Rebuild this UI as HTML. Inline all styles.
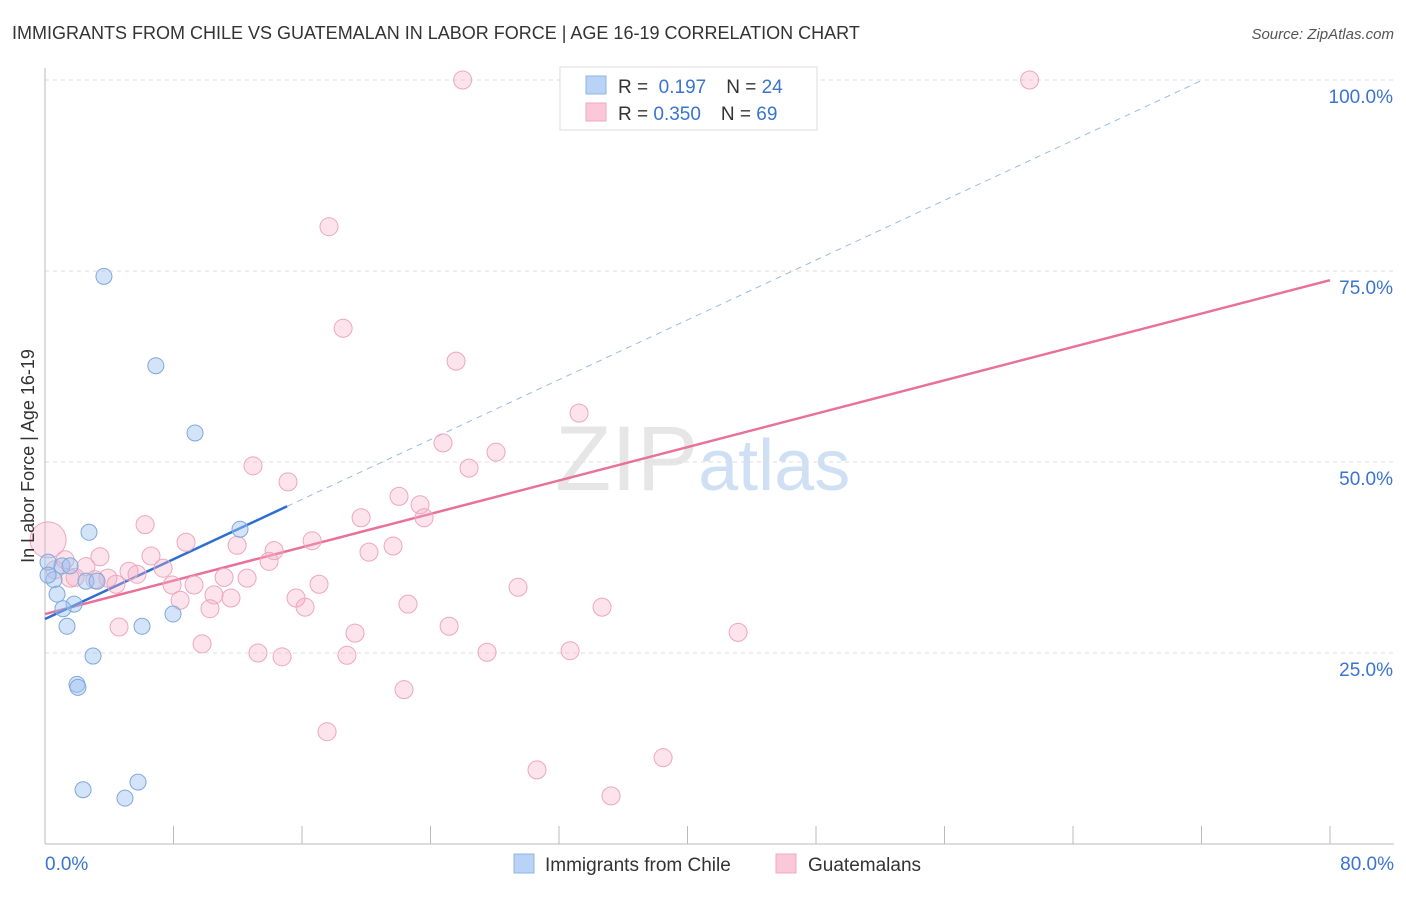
<!DOCTYPE html>
<html><head><meta charset="utf-8">
<style>
body{margin:0;background:#fff;font-family:"Liberation Sans",sans-serif;}
svg text{font-family:"Liberation Sans",sans-serif;}
</style></head>
<body>
<svg id="chart" width="1406" height="892" xmlns="http://www.w3.org/2000/svg">
<text x="12" y="39" font-size="18" fill="#333">IMMIGRANTS FROM CHILE VS GUATEMALAN IN LABOR FORCE | AGE 16-19 CORRELATION CHART</text>
<text x="1394" y="39" font-size="15" fill="#555" text-anchor="end" font-style="italic">Source: ZipAtlas.com</text>
<text x="555" y="490" font-size="92" fill="#e6e6e6" font-family="Liberation Serif">ZIP<tspan fill="#cfe0f5" font-family="Liberation Sans" font-size="72">atlas</tspan></text>
<g id="grid"></g>
<g id="axes"></g>
<g id="lines"></g>
<g id="points"></g>
<text transform="translate(34,456) rotate(-90)" font-size="18" fill="#333" text-anchor="middle">In Labor Force | Age 16-19</text>
<g>
<rect x="560" y="67" width="257" height="63" fill="#fff" stroke="#ddd"/>
<rect x="586" y="76" width="20" height="18" fill="#b8d3f5" stroke="#8fb6e6"/>
<rect x="586" y="103" width="20" height="18" fill="#fac8d8" stroke="#f0a8c0"/>
<text x="618" y="93" font-size="19" fill="#333">R = <tspan fill="#3a74d0">&#160;0.197</tspan><tspan dx="20">N = </tspan><tspan fill="#3a74d0">24</tspan></text>
<text x="618" y="120" font-size="19" fill="#333">R = <tspan fill="#3a74d0">0.350</tspan><tspan dx="20">N = </tspan><tspan fill="#3a74d0">69</tspan></text>
</g>
<g>
<rect x="514" y="854" width="20" height="19" fill="#b8d3f5" stroke="#8fb6e6"/>
<text x="545" y="871" font-size="19" fill="#333">Immigrants from Chile</text>
<rect x="776" y="854" width="20" height="19" fill="#fac8d8" stroke="#f0a8c0"/>
<text x="808" y="871" font-size="19" fill="#333">Guatemalans</text>
</g>
</svg>
<script>
const yTicks=[25,50,75,100];
const yTickLabels=["25.0%","50.0%","75.0%","100.0%"];
const xTickLabels=["0.0%","80.0%"];
const chileX=[3.67,6.9,9.34,12.14,2.74,0.19,1.06,1.56,0.56,2.55,3.24,0.75,1.81,1.12,1.37,6.04,7.97,2.99,1.99,2.05,2.37,5.79,4.98,0.19];
const chileY=[74.3,62.6,53.8,41.2,40.8,36.9,36.4,36.4,34.6,34.4,34.4,32.7,31.4,30.8,28.5,28.5,30.1,24.6,20.9,20.5,7.1,8.1,6.0,35.2];
const guatX=[26.0,61.3,17.68,18.56,25.59,33.25,24.78,28.08,26.4,12.95,15.13,22.04,23.35,23.6,19.68,6.23,8.78,11.96,16.63,14.26,21.67,20.17,0.19,1.25,3.42,6.6,13.95,2.55,5.23,7.35,5.73,3.92,1.87,4.42,11.15,12.58,7.91,9.28,17.06,29.45,10.52,11.58,8.41,15.63,16.19,10.27,22.6,34.68,4.61,19.3,25.16,43.15,9.78,13.26,14.76,18.8,27.52,32.69,22.35,17.56,30.63,38.48,35.24,1.56,0.62,3.11];
const guatY=[100,100,80.8,67.5,63.2,56.4,52.5,51.3,49.2,49.5,47.4,45.5,44.4,42.7,42.7,41.8,39.5,39.1,39.7,38.4,39.0,38.2,39.8,37.2,37.6,37.7,37.0,36.3,35.7,36.1,35.3,34.8,34.9,34.0,34.9,34.8,33.9,33.9,34.0,33.6,32.6,32.2,31.9,32.2,31.0,30.8,31.4,31.0,28.4,27.6,28.5,27.7,26.2,25.0,24.5,24.7,25.1,25.3,20.2,14.7,9.7,11.3,6.3,34.8,35.9,34.6];
const guatR=guatX.map((v,i)=>i===22?18:9);
const chileTrend=[29.45,44.2];
const chileTrendEnd=15.07;
const guatTrend=[30.1,73.8];
const NS="http://www.w3.org/2000/svg";
const X=v=>45+v*1285/80, Y=v=>844-v*7.64;
function mk(t,a,p){const e=document.createElementNS(NS,t);for(const k in a)e.setAttribute(k,a[k]);p.appendChild(e);return e;}
const grid=document.getElementById('grid'),axes=document.getElementById('axes'),lines=document.getElementById('lines'),pts=document.getElementById('points');
yTicks.forEach((t,i)=>{
 const l=mk('line',{x1:45,x2:1394,y1:Y(t),y2:Y(t),stroke:'#ddd','stroke-dasharray':'4,4'},grid);
 
 
 const tx=mk('text',{x:1393,y:Y(t)+23,'font-size':19,fill:'#3a74d0','text-anchor':'end'},axes);
 tx.textContent=yTickLabels[i];
 
 
});
const ax=mk('line',{x1:45,x2:45,y1:68,y2:844,stroke:'#bbb'},axes);


const bx=mk('line',{x1:45,x2:1394,y1:844,y2:844,stroke:'#bbb'},axes);


for(let i=0;i<=10;i++){const tk=mk('line',{x1:X(i*8),x2:X(i*8),y1:826,y2:844,stroke:'#bbb'},axes);
 
 }
[[0,45,'start'],[80,1394,'end']].forEach((d,i)=>{const tx=mk('text',{x:d[1],y:870,'font-size':19,fill:'#3a74d0','text-anchor':d[2]},axes);tx.textContent=xTickLabels[i];
 
 });
const slope=(chileTrend[1]-chileTrend[0])/chileTrendEnd;
const dashEndX=(100-chileTrend[0])/slope;
const d1=mk('line',{x1:X(chileTrendEnd),y1:Y(chileTrend[1]),x2:X(dashEndX),y2:Y(100),stroke:'#9bbbe0','stroke-dasharray':'6,5','stroke-width':1},lines);


const d2=mk('line',{x1:X(0),y1:Y(guatTrend[0]),x2:X(80),y2:Y(guatTrend[1]),stroke:'#e8709a','stroke-width':2.5},lines);


guatX.forEach((v,i)=>{const c=mk('circle',{cx:X(v),cy:Y(guatY[i]),r:guatR[i],fill:'rgba(245,175,200,0.35)',stroke:'#eea6be','stroke-width':1},pts);
 
 });
chileX.forEach((v,i)=>{const c=mk('circle',{cx:X(v),cy:Y(chileY[i]),r:8,fill:'rgba(160,195,240,0.45)',stroke:'#7fa8dd','stroke-width':1},pts);
 
 });
const d3=mk('line',{x1:X(0),y1:Y(chileTrend[0]),x2:X(chileTrendEnd),y2:Y(chileTrend[1]),stroke:'#2d6fd0','stroke-width':2.5},lines);


</script>
</body></html>
